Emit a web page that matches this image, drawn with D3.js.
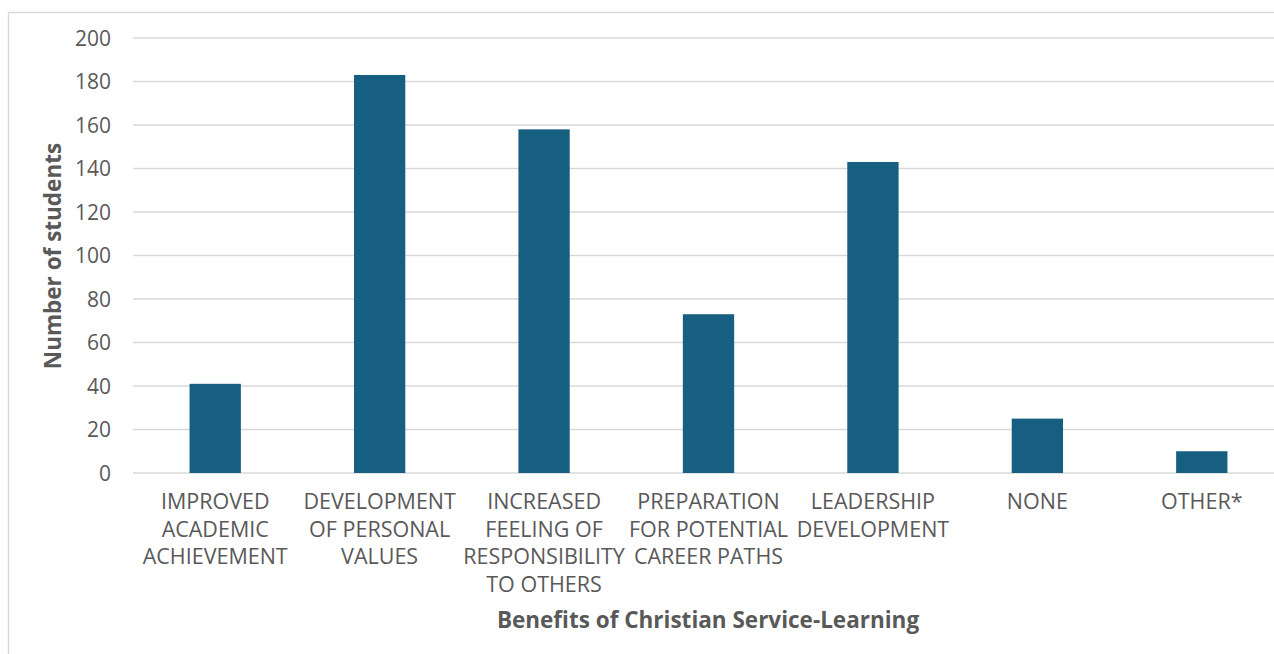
<!DOCTYPE html>
<html>
<head>
<meta charset="utf-8">
<script src="https://cdn.jsdelivr.net/npm/d3@7"></script>
<style>
  html, body { margin: 0; padding: 0; background: #fff; }
  svg { display: block; }
</style>
</head>
<body>
<svg id="chart" width="1274" height="654"></svg>
<script>
// Survey results: perceived benefits of Christian service-learning
const categories = [
  ["IMPROVED", "ACADEMIC", "ACHIEVEMENT"],
  ["DEVELOPMENT", "OF PERSONAL", "VALUES"],
  ["INCREASED", "FEELING OF", "RESPONSIBILITY", "TO OTHERS"],
  ["PREPARATION", "FOR POTENTIAL", "CAREER PATHS"],
  ["LEADERSHIP", "DEVELOPMENT"],
  ["NONE"],
  ["OTHER*"]
];
const studentCounts = [41, 183, 158, 73, 143, 25, 10];
const yTicks = [0, 20, 40, 60, 80, 100, 120, 140, 160, 180, 200];

const svg = d3.select("#chart");
const font = "'Open Sans', sans-serif";
const textColor = "#595959";
const gridColor = "#d9d9d9";
const barColor = "#175f80";

// chart frame
svg.append("rect")
  .attr("x", 8.5).attr("y", 12.5)
  .attr("width", 1300).attr("height", 700)
  .attr("fill", "none").attr("stroke", gridColor).attr("stroke-width", 1.5);

const plotLeft = 133, plotRight = 1284, plotTop = 38, plotBottom = 473;
const keys = categories.map((c, i) => i);

const x = d3.scaleBand().domain(keys).range([plotLeft, plotRight])
  .paddingInner(0.688).paddingOuter(0.344);
const y = d3.scaleLinear().domain([0, 200]).range([plotBottom, plotTop]);

// horizontal gridlines
svg.append("g").selectAll("line").data(yTicks).join("line")
  .attr("x1", plotLeft).attr("x2", 1274)
  .attr("y1", d => y(d)).attr("y2", d => y(d))
  .attr("stroke", gridColor).attr("stroke-width", 1.5);

// y axis tick labels
const yAxis = d3.axisLeft(y).tickValues(yTicks).tickSize(0).tickPadding(0);
const gy = svg.append("g").attr("transform", `translate(111,0)`).call(yAxis);
gy.select(".domain").remove();
gy.selectAll("text")
  .attr("font-family", font).attr("font-size", 21)
  .attr("fill", textColor).attr("dy", "0.35em");

// bars
svg.append("g").selectAll("rect").data(studentCounts).join("rect")
  .attr("x", (d, i) => x(i))
  .attr("y", d => y(d))
  .attr("width", x.bandwidth())
  .attr("height", d => y(0) - y(d))
  .attr("fill", barColor);

// category labels (multi-line)
const gx = svg.append("g");
categories.forEach((lines, i) => {
  const cx = x(i) + x.bandwidth() / 2;
  const t = gx.append("text")
    .attr("text-anchor", "middle")
    .attr("font-family", font).attr("font-size", 21.5)
    .attr("fill", textColor);
  lines.forEach((ln, j) => {
    t.append("tspan")
      .attr("x", cx)
      .attr("y", 509 + j * 27.5)
      .text(ln);
  });
});

// axis titles
svg.append("text")
  .attr("x", 708).attr("y", 628)
  .attr("text-anchor", "middle")
  .attr("font-family", font).attr("font-size", 22.5).attr("font-weight", "bold")
  .attr("fill", textColor)
  .text("Benefits of Christian Service-Learning");

svg.append("text")
  .attr("transform", "translate(61,256) rotate(-90)")
  .attr("text-anchor", "middle")
  .attr("font-family", font).attr("font-size", 22.5).attr("font-weight", "bold")
  .attr("fill", textColor)
  .text("Number of students");
</script>
</body>
</html>
